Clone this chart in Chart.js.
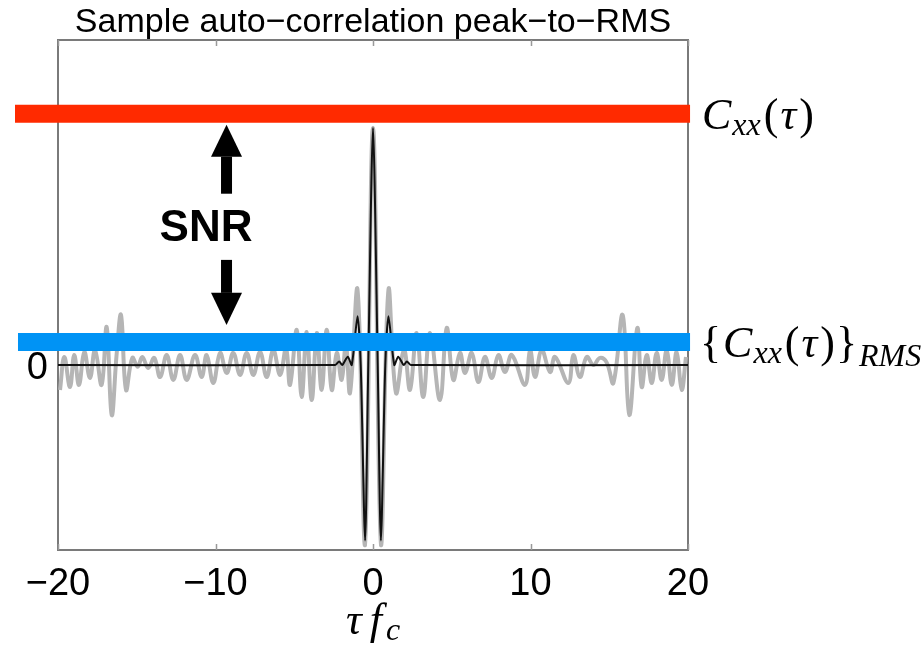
<!DOCTYPE html>
<html>
<head>
<meta charset="utf-8">
<script src="https://cdn.jsdelivr.net/npm/chart.js@4.4.1/dist/chart.umd.min.js"></script>
<style>
  html, body { margin: 0; padding: 0; background: #fff; }
  #c { display: block; }
</style>
</head>
<body>
<canvas id="c" width="923" height="650"></canvas>
<script>
/***********************
 * DATA
 ***********************/
const xTicks = [-20, -10, 0, 10, 20];
const yTicks = [0];

// sample auto-correlation, noisy (grey)
const grayTau = [
  -19.87, -19.60, -19.24, -18.97, -18.67, -18.33, -17.97, -17.65, -17.23, -16.91,
  -16.59, -16.27, -16.00, -15.68, -15.28, -14.94, -14.65, -14.27, -13.89, -13.52,
  -13.10, -12.68, -12.25, -11.83, -11.30, -10.88, -10.56, -10.14, -9.71, -9.29,
  -8.87, -8.44, -8.02, -7.60, -7.17, -6.75, -6.33, -5.90, -5.52, -5.27,
  -4.84, -4.53, -4.21, -3.89, -3.57, -3.26, -2.94, -2.62, -2.30, -1.99,
  -1.72, -1.46, -0.98, -0.51, 0.00, 0.51, 0.98, 1.46, 1.97, 2.35,
  2.77, 3.19, 3.62, 4.25, 4.68, 5.10, 5.52, 5.84, 6.27, 6.69,
  7.11, 7.54, 7.96, 8.38, 8.81, 9.65, 9.97, 10.29, 10.71, 11.24,
  11.56, 12.40, 12.72, 13.14, 13.57, 13.99, 14.41, 14.84, 15.26, 15.85,
  16.27, 16.78, 17.06, 17.38, 17.70, 18.01, 18.33, 18.65, 18.97, 19.28,
  19.60, 19.87
];
const grayVal = [
  -0.105, 0.034, -0.093, 0.042, -0.084, 0.055, -0.055, 0.063, -0.084, 0.160,
  -0.211, 0.051, 0.211, -0.105, 0.030, -0.008, 0.034, -0.013, 0.030, -0.051,
  0.042, -0.063, 0.042, -0.063, 0.042, -0.051, 0.042, -0.076, 0.051, -0.034,
  0.051, -0.042, 0.051, -0.042, 0.055, -0.051, 0.063, -0.042, 0.072, -0.084,
  0.148, -0.135, 0.139, -0.148, 0.135, -0.105, 0.148, -0.105, 0.051, -0.063,
  0.090, -0.118, 0.316, -0.760, 1.000, -0.760, 0.316, -0.118, 0.063, -0.105,
  0.135, -0.135, 0.135, -0.148, 0.156, -0.063, 0.051, -0.034, 0.051, -0.072,
  0.034, -0.055, 0.042, -0.030, 0.042, -0.084, 0.063, -0.051, 0.063, -0.030,
  0.034, -0.076, 0.042, -0.051, 0.034, 0.000, 0.030, 0.010, -0.076, 0.211,
  -0.211, 0.156, -0.093, 0.042, -0.076, 0.051, -0.063, 0.063, -0.084, 0.055,
  -0.105, 0.034
];

// ideal auto-correlation (black)
const blackTau = [-20, -2.40, -2.15, -1.95, -1.60, -1.35, -0.98, -0.78, -0.50, -0.30, 0,
                  0.30, 0.50, 0.78, 0.98, 1.35, 1.60, 1.95, 2.15, 2.40, 20];
const blackVal = [0, 0, 0.015, 0, 0.035, 0, 0.205, 0, -0.74, 0, 1.0,
                  0, -0.74, 0, 0.205, 0, 0.035, 0, 0.015, 0, 0];

// peak and RMS levels
const peakLevel = 1.059;
const rmsLevel = 0.097;

const titleText = "Sample auto\u2212correlation peak\u2212to\u2212RMS";
const snrText = "SNR";

/***********************
 * HELPERS
 ***********************/
function pairs(xs, ys) {
  return xs.map((x, i) => ({ x: x, y: ys[i] }));
}

function minusLabel(v) {
  return v < 0 ? "\u2212" + Math.abs(v) : String(v);
}

function serif(p) {
  return (p.italic ? "italic " : "") + p.size + "px 'Liberation Serif', 'DejaVu Serif', serif";
}

// draw a run of text pieces (math-ish label) starting at x, baseline y
function drawRun(ctx, x, y, parts) {
  ctx.textBaseline = "alphabetic";
  ctx.textAlign = "left";
  parts.forEach(p => {
    ctx.font = serif(p);
    ctx.fillText(p.t, x, y + (p.dy || 0));
    x += ctx.measureText(p.t).width + (p.gap || 0);
  });
  return x;
}

function runWidth(ctx, parts) {
  let w = 0;
  parts.forEach(p => {
    ctx.font = serif(p);
    w += ctx.measureText(p.t).width + (p.gap || 0);
  });
  return w;
}

function arrow(ctx, x, yShaftEnd, yHeadBase, yTip) {
  ctx.fillStyle = "#000";
  ctx.fillRect(x - 5.5, Math.min(yShaftEnd, yHeadBase), 11, Math.abs(yHeadBase - yShaftEnd));
  ctx.beginPath();
  ctx.moveTo(x - 15.5, yHeadBase);
  ctx.lineTo(x + 15.5, yHeadBase);
  ctx.lineTo(x, yTip);
  ctx.closePath();
  ctx.fill();
}

/***********************
 * DECORATION PLUGIN
 ***********************/
const decor = {
  id: "decor",
  beforeDatasetsDraw(chart) {
    const { ctx, chartArea: a, scales } = chart;
    ctx.save();
    ctx.strokeStyle = "#7a7a7a";
    ctx.lineWidth = 2;
    ctx.strokeRect(a.left, a.top, a.right - a.left, a.bottom - a.top);
    // inward ticks top & bottom
    ctx.lineWidth = 1.5;
    ctx.strokeStyle = "#999";
    xTicks.forEach(t => {
      const px = Math.round(scales.x.getPixelForValue(t)) + 0.5;
      ctx.beginPath();
      ctx.moveTo(px, a.top); ctx.lineTo(px, a.top + 6);
      ctx.moveTo(px, a.bottom); ctx.lineTo(px, a.bottom - 6);
      ctx.stroke();
    });
    ctx.restore();
  },
  afterDraw(chart) {
    const { ctx, chartArea: a, scales } = chart;
    const X = v => scales.x.getPixelForValue(v);
    const Y = v => scales.y.getPixelForValue(v);
    ctx.save();
    // title
    ctx.fillStyle = "#000";
    ctx.font = "34px 'Liberation Sans', Arial, sans-serif";
    ctx.textAlign = "center";
    ctx.textBaseline = "middle";
    ctx.fillText(titleText, (a.left + a.right) / 2, 23);

    // SNR arrows & text
    const ax = X(-9.3);
    arrow(ctx, ax, Y(0.722), Y(0.878), Y(1.013));
    arrow(ctx, ax, Y(0.443), Y(0.304), Y(0.169));
    ctx.fillStyle = "#000";
    ctx.font = "bold 44px 'Liberation Sans', Arial, sans-serif";
    ctx.textAlign = "center";
    ctx.textBaseline = "middle";
    ctx.fillText(snrText, X(-10.6), Y(0.574));

    // right-hand labels
    const big = 44, sub = 32;
    drawRun(ctx, a.right + 14, Y(peakLevel) + 15, [
      { t: "C", italic: true, size: big, gap: 1 },
      { t: "xx", italic: true, size: sub, dy: 6, gap: 3 },
      { t: "(", size: big, gap: 2 },
      { t: "\u03C4", italic: true, size: big, gap: 3 },
      { t: ")", size: big }
    ]);
    drawRun(ctx, a.right + 12, Y(rmsLevel) + 15, [
      { t: "{", size: big, gap: 2 },
      { t: "C", italic: true, size: big, gap: 1 },
      { t: "xx", italic: true, size: sub, dy: 6, gap: 3 },
      { t: "(", size: big, gap: 2 },
      { t: "\u03C4", italic: true, size: big, gap: 3 },
      { t: ")", size: big, gap: 1 },
      { t: "}", size: big, gap: 2 },
      { t: "RMS", italic: true, size: sub, dy: 9 }
    ]);

    // x axis title  tau f_c
    const xt = [
      { t: "\u03C4", italic: true, size: big, gap: 8 },
      { t: "f", italic: true, size: big, gap: 4 },
      { t: "c", italic: true, size: sub, dy: 6 }
    ];
    const w = runWidth(ctx, xt);
    drawRun(ctx, (a.left + a.right) / 2 - w / 2, 634, xt);
    ctx.restore();
  }
};

/***********************
 * CHART
 ***********************/
const ctx = document.getElementById("c").getContext("2d");

new Chart(ctx, {
  type: "line",
  data: {
    datasets: [
      {
        label: "peak",
        data: pairs([-22.73, 20.13], [peakLevel, peakLevel]),
        borderColor: "#ff2a00",
        borderWidth: 18,
        borderCapStyle: "butt",
        pointRadius: 0,
        clip: false,
        order: 1
      },
      {
        label: "rms",
        data: pairs([-22.54, 20.13], [rmsLevel, rmsLevel]),
        borderColor: "#0093f5",
        borderWidth: 18,
        borderCapStyle: "butt",
        pointRadius: 0,
        clip: false,
        order: 1
      },
      {
        label: "ideal",
        data: pairs(blackTau, blackVal),
        borderColor: "#111",
        borderWidth: 2,
        pointRadius: 0,
        tension: 0.25,
        order: 2
      },
      {
        label: "sample",
        data: pairs(grayTau, grayVal),
        borderColor: "#b5b5b5",
        borderWidth: 4,
        pointRadius: 0,
        tension: 0.4,
        order: 3
      }
    ]
  },
  options: {
    responsive: false,
    animation: false,
    devicePixelRatio: 1,
    layout: { padding: { left: 0, right: 235, top: 40, bottom: 0 } },
    plugins: {
      legend: { display: false },
      tooltip: { enabled: false },
      title: { display: false }
    },
    scales: {
      x: {
        type: "linear",
        min: -20,
        max: 20,
        afterFit: s => { s.height = 100; },
        afterBuildTicks: s => { s.ticks = xTicks.map(v => ({ value: v })); },
        grid: { display: false, drawTicks: false },
        border: { display: false },
        ticks: {
          padding: 12,
          maxRotation: 0,
          autoSkip: false,
          color: "#000",
          font: { family: "'Liberation Sans', Arial, sans-serif", size: 38 },
          callback: v => minusLabel(v)
        }
      },
      y: {
        type: "linear",
        min: -0.78,
        max: 1.37,
        afterFit: s => { s.width = 58; },
        afterBuildTicks: s => { s.ticks = yTicks.map(v => ({ value: v })); },
        grid: { display: false, drawTicks: false },
        border: { display: false },
        ticks: {
          padding: 10,
          labelOffset: 4,
          color: "#000",
          font: { family: "'Liberation Sans', Arial, sans-serif", size: 38 },
          callback: v => minusLabel(v)
        }
      }
    }
  },
  plugins: [decor]
});
</script>
</body>
</html>
